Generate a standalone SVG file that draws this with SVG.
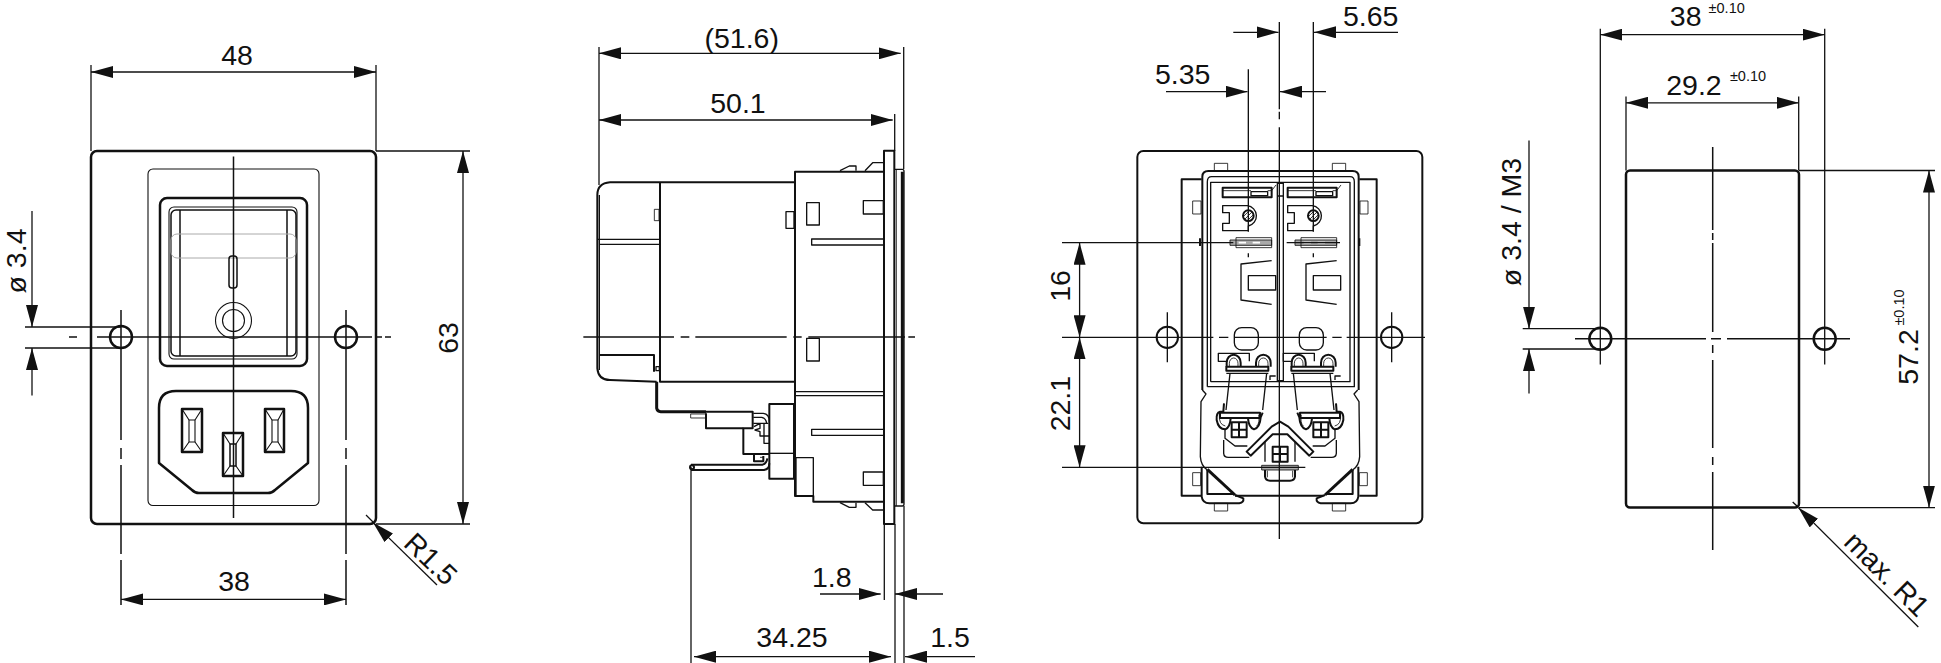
<svg xmlns="http://www.w3.org/2000/svg" xmlns:xlink="http://www.w3.org/1999/xlink" width="1941" height="663" viewBox="0 0 1941 663">
<style>
g,path,rect,line,circle,ellipse{fill:none;stroke:#111;stroke-linejoin:round}
text{font-family:"Liberation Sans",Arial,sans-serif;font-size:28.5px;fill:#111;stroke:none;text-anchor:middle}
text.s{font-size:14.5px}
.d line,.d path{stroke-width:1.3}
.a{marker-start:url(#ar);marker-end:url(#ar)}
.e{marker-end:url(#ar)}
.t{stroke-width:1.1}
.m{stroke-width:1.5}
.b{stroke-width:2.5}
.g{stroke:#aaa;stroke-width:1}
.z1{stroke-width:2.5}
.z2{stroke-width:4}
.z3{stroke-width:6}
.z4{stroke-width:9}
.gf{fill:#aaa}
</style>
<defs>
<marker id="ar" markerUnits="userSpaceOnUse" markerWidth="22" markerHeight="12" viewBox="0 -6 22 12" refX="22" refY="0" orient="auto-start-reverse"><path d="M0 -6L22 0L0 6z" style="fill:#111;stroke:none"/></marker>
<g id="mod">
<rect class="z3" x="308" y="143" width="147" height="29"/>
<path class="z1" d="M308,152H393M443,152H455L468,135"/>
<rect class="z2" x="393" y="155" width="50" height="12"/>
<path class="z2" d="M308,197H382A31,31 0 0 1 385,258V272H308V250H328V218H308Z"/>
<circle class="z3" cx="385" cy="227" r="16"/>
<path class="z1" d="M374,238L396,216M371,229L387,213M383,241L399,225"/>
<rect class="gf z1" x="330" y="300" width="125" height="16"/>
<rect class="z1" x="348" y="293" width="107" height="30"/>
<path style="stroke:#fff;stroke-width:5" d="M356,308H378M398,308H420"/>
<path class="z2" d="M455,362L363,372V480L455,493"/>
<rect class="z2" x="385" y="407" width="82" height="43"/>
<rect class="z2" x="343" y="563" width="72" height="67" rx="22"/>
<path class="z2" d="M322,664H295V640H388V664"/>
<path class="z3" d="M320,680V668A21,24 0 0 1 362,668V680M408,680V668A22,24 0 0 1 452,668V680"/>
<path class="z1" d="M328,680V670A13,16 0 0 1 354,670V680M416,680V670A14,16 0 0 1 444,670V680"/>
<rect class="z3" x="319" y="680" width="126" height="12"/>
<path class="z2" d="M319,700H445M450,720V708H467"/>
</g>
<g id="low">
<path class="z2" d="M330,100L318,210M440,100L428,210"/>
<rect class="z3" x="300" y="218" width="120" height="16"/>
<path class="z3" d="M312,190L310,215H300Q288,218 290,240Q295,268 316,268Q330,262 332,235M384,235Q386,262 402,268Q420,262 422,232L428,218"/>
<path class="z1" d="M298,224Q296,254 316,258M410,258Q420,250 416,224"/>
<path class="z2" d="M315,268V295L345,318H382M311,300V340Q312,352 325,352H388"/>
<rect class="z3" x="335" y="247" width="45" height="45"/>
<path class="z3" d="M357,247V292M335,269H380"/>
<path class="z2" d="M247,150L258,162L243,185L241,350Q243,378 262,390"/>
<path class="z4" d="M262,388L345,465"/>
<path class="z3" d="M245,380V470Q248,490 268,490H358Q372,488 370,475L345,465M262,390V462H340"/>
<rect class="z1" x="218" y="398" width="24" height="39"/>
<rect class="z1" x="283" y="490" width="40" height="23"/>
</g>
</defs>
<rect width="1941" height="663" style="fill:#fff;stroke:none"/>

<g id="front-view">
<rect class="b" x="91" y="151" width="285" height="373" rx="6"/>
<rect class="t" x="148" y="169" width="171" height="336.500" rx="5"/>
<rect class="b" x="160" y="198" width="147" height="168" rx="7"/>
<rect class="t" x="169" y="207" width="128" height="152" rx="5"/>
<rect class="m" x="171" y="210" width="125" height="146" rx="5"/>
<path class="m" d="M180,210V356M287,210V356"/>
<rect class="g" x="171" y="234" width="125" height="24" rx="6"/>
<rect class="m" x="229" y="256" width="8" height="32" rx="3"/>
<circle class="t" cx="233.500" cy="320.500" r="18"/>
<circle class="t" cx="233.500" cy="320.500" r="11"/>
<path class="b" d="M176,391H291Q308,391 308,408V463L275,490Q272,493 268,493H199Q195,493 192,490L159,463V408Q159,391 176,391Z"/>
<g id="pin-l"><rect class="b" x="182" y="409" width="20" height="43"/><rect class="t" x="189" y="420" width="6" height="22"/><path class="t" d="M182,409L189,420M202,409L195,420M182,452L189,442M202,452L195,442"/></g>
<g id="pin-r"><rect class="b" x="265" y="409" width="19" height="43"/><rect class="t" x="272" y="420" width="6" height="22"/><path class="t" d="M265,409L272,420M284,409L278,420M265,452L272,442M284,452L278,442"/></g>
<g id="pin-c"><rect class="b" x="223" y="433" width="20" height="43"/><rect class="m" x="230" y="444" width="6" height="22"/><path class="t" d="M223,433L230,444M243,433L236,444M223,476L230,466M243,476L236,466"/></g>
<circle class="b" cx="121" cy="337" r="11"/>
<circle class="b" cx="346" cy="337" r="11"/>
<path class="m" d="M233.500,156.500V518M69,337H77M97,337H372M377,337H382M385,337H391"/>
<path class="m" d="M121,310V440M121,448V459M121,465V554M121,560V605M346,310V440M346,448V459M346,465V554M346,560V605"/>
</g>

<g id="side-view" transform="translate(560,130) scale(.33333)">
<rect class="z3" x="972" y="62" width="31" height="1120"/>
<path class="z2" d="M1003,118H1027Q1032,118 1032,124V1122Q1032,1128 1027,1128H1003"/>
<path class="z4" d="M1027,125V1120"/>
<path class="z1" d="M1009,118V1128"/>
<path class="z3" d="M972,125H705V1098H760V1115H972"/>
<path class="z2" d="M840,122L868,108H888V122M915,122L938,98H970M840,1118L868,1132H888V1118M915,1118L938,1140H970"/>
<path class="z3" d="M702,157H150Q112,160 112,195V715Q115,750 150,750L290,755"/>
<path class="z3" d="M300,157V755H702"/>
<path class="z2" d="M112,328H300M118,343H300M118,195V720"/>
<path class="z3" d="M118,675H282V725"/>
<rect class="z1" x="283" y="238" width="14" height="34"/>
<rect class="z2" x="678" y="245" width="24" height="50"/>
<rect class="z2" x="740" y="218" width="38" height="67"/>
<rect class="z2" x="910" y="212" width="60" height="40"/>
<path class="z2" d="M970,327H755V345H970"/>
<rect class="z2" x="740" y="625" width="38" height="68"/>
<path class="z2" d="M705,785H970M705,797H970"/>
<path class="z2" d="M970,898H755V916H970"/>
<rect class="z2" x="910" y="1026" width="60" height="40"/>
<rect class="z2" x="708" y="983" width="52" height="115"/>
<path class="z4" d="M290,755V835Q292,845 302,845H438"/>
<path class="z3" d="M438,845H578V895H550V972H628"/>
<path class="z3" d="M438,850V895H550"/>
<rect class="z3" x="628" y="822" width="74" height="224"/>
<path class="z2" d="M628,970H702"/>
<rect class="z1" x="392" y="852" width="46" height="12"/>
<path class="z2" d="M580,850H610Q628,852 628,875M580,862H605Q618,865 620,880M580,880H625M582,890L600,880V895L585,900L600,905V918H628M612,880V940H628"/>
<path class="z3" d="M393,1004H608Q620,1000 622,985M393,1020H612Q628,1018 628,1000"/>
<circle class="z3" cx="396" cy="1012" r="6"/>
<path class="z3" d="M582,975V994H610V978"/>
<path class="z1" d="M600,982H612"/>
<path class="z2" d="M288,710H298V722H288Z"/>
<path class="z2" d="M70,621H342M362,621H388M406,621H680M700,621H725M745,621H1035M1045,621H1065"/>
</g>

<g id="rear-view" transform="translate(1120,140) scale(.33333)">
<rect class="z3" x="52" y="33" width="855" height="1117" rx="18"/>
<path class="z3" d="M245,118H185V1067H245M718,118H770V1067H718"/>
<path class="z3" d="M247,750V110Q247,93 265,93H698Q716,93 716,110V750"/>
<path class="z2" d="M262,740V125Q262,110 275,110H690Q703,110 703,125V740H262"/>
<path class="z2" d="M272,725V127H690V725H272"/>
<rect class="z1" x="283" y="70" width="40" height="23"/>
<rect class="z1" x="637" y="70" width="40" height="23"/>
<rect class="z1" x="218" y="183" width="25" height="39"/>
<rect class="z1" x="720" y="183" width="24" height="39"/>
<path class="z2" d="M472,130H490V722H472ZM472,168H490"/>
<path class="z3" d="M240,295V318M718,295V318"/>
<use xlink:href="#mod"/>
<use xlink:href="#mod" x="195"/>
<g transform="translate(0,600)">
<use xlink:href="#low"/>
<g transform="translate(960,0) scale(-1,1)"><use xlink:href="#low"/></g>
<path class="z3" d="M380,335L455,260L480,245L505,260L580,335L568,347L502,283H458L392,347Z"/>
<path class="z2" d="M435,305V365M525,305V365"/>
<rect class="z3" x="458" y="320" width="45" height="45"/>
<path class="z3" d="M480,320V365M458,342H503"/>
<rect class="gf z1" x="425" y="376" width="110" height="14"/>
<path class="z3" d="M435,390V410Q437,422 450,422H510Q523,422 525,410V390"/>
<path class="z1" d="M442,392V412M518,392V412"/>
<path class="z3" d="M345,467H610"/>
</g>
<circle class="z3" cx="142" cy="592" r="32"/>
<circle class="z3" cx="815" cy="592" r="32"/>
<path class="z2" d="M142,517V667M815,517V667M-174,592H280M297,592H325M342,592H620M637,592H665M680,592H915"/>
<path class="z2" d="M385,-212V275M385,340V352M580,-354V275M580,340V352"/>
<path class="z2" d="M478,-354V-92M478,-85V-62M478,-38V1197"/>
<path class="z2" d="M-174,308H340M500,308H660M-174,982H556"/>
</g>

<g id="cutout-view">
<rect class="b" x="1626" y="170.500" width="173" height="337" rx="4"/>
<circle class="b" cx="1600.300" cy="338.800" r="11"/>
<circle class="b" cx="1824.700" cy="338.800" r="11"/>
<path class="m" d="M1712.700,147V230M1712.700,233V240M1712.700,243V332M1712.700,345V353M1712.700,360V448M1712.700,457V465M1712.700,472V550M1575,338.800H1706M1711,338.800H1721M1727,338.800H1850"/>
</g>

<g id="dimensions" class="d">
<line x1="91" y1="65" x2="91" y2="151"/><line x1="376" y1="65" x2="376" y2="151"/>
<line class="a" x1="91" y1="72" x2="376" y2="72"/>
<line x1="376" y1="151" x2="470" y2="151"/><line x1="376" y1="524" x2="470" y2="524"/>
<line class="a" x1="463" y1="151" x2="463" y2="524"/>
<line class="a" x1="121" y1="599.400" x2="346" y2="599.400"/>
<line x1="25" y1="327" x2="121" y2="327"/><line x1="25" y1="348" x2="121" y2="348"/>
<line class="e" x1="32" y1="211" x2="32" y2="327"/><line class="e" x1="32" y1="395.500" x2="32" y2="348"/>
<line x1="366" y1="515" x2="373" y2="522"/><line class="e" x1="437" y1="585" x2="373" y2="522.400"/>

<line x1="599" y1="47" x2="599" y2="185"/><line x1="903.700" y1="47" x2="903.700" y2="169"/><line x1="894.700" y1="114" x2="894.700" y2="151"/>
<line class="a" x1="599" y1="53.300" x2="900.700" y2="53.300"/>
<line class="a" x1="599" y1="120" x2="892.700" y2="120"/>
<line x1="691" y1="467" x2="691" y2="663"/>
<line x1="884.300" y1="524" x2="884.300" y2="600"/><line x1="895" y1="524" x2="895" y2="663"/><line x1="904" y1="506" x2="904" y2="663"/>
<line class="e" x1="820" y1="594" x2="880.700" y2="594"/><line class="e" x1="943" y1="594" x2="895" y2="594"/>
<line class="a" x1="694" y1="656.700" x2="891" y2="656.700"/>
<line class="e" x1="975" y1="656.700" x2="905" y2="656.700"/>

<line class="e" x1="1233.300" y1="32.300" x2="1278.500" y2="32.300"/><line class="e" x1="1398" y1="32.300" x2="1314" y2="32.300"/>
<line class="e" x1="1166" y1="91.700" x2="1247.500" y2="91.700"/><line class="e" x1="1326" y1="91.700" x2="1280" y2="91.700"/>
<line class="a" x1="1079.600" y1="242.700" x2="1079.600" y2="337.300"/>
<line class="a" x1="1079.600" y1="337.300" x2="1079.600" y2="467.300"/>

<line x1="1600.300" y1="28.800" x2="1600.300" y2="364.600"/><line x1="1824.700" y1="28.800" x2="1824.700" y2="364.600"/>
<line class="a" x1="1600.300" y1="34.700" x2="1824.700" y2="34.700"/>
<line x1="1626" y1="96.400" x2="1626" y2="170.500"/><line x1="1798.700" y1="96.400" x2="1798.700" y2="170.500"/>
<line class="a" x1="1626" y1="102.800" x2="1798.700" y2="102.800"/>
<line x1="1799" y1="170.500" x2="1935" y2="170.500"/><line x1="1799" y1="507.600" x2="1935" y2="507.600"/>
<line class="a" x1="1929" y1="170.500" x2="1929" y2="507.600"/>
<line x1="1522.700" y1="328.700" x2="1600" y2="328.700"/><line x1="1522.700" y1="349" x2="1600" y2="349"/>
<line class="e" x1="1529" y1="140.400" x2="1529" y2="328.700"/><line class="e" x1="1529" y1="393.400" x2="1529" y2="349"/>
<line x1="1792.700" y1="502" x2="1798" y2="507"/><line class="e" x1="1918.300" y1="627" x2="1798.300" y2="507.600"/>
</g>

<g id="labels">
<text x="237" y="65">48</text>
<text transform="translate(458,338) rotate(-90)">63</text>
<text x="234" y="591">38</text>
<text transform="translate(26,261) rotate(-90)">ø 3.4</text>
<text transform="translate(424,566) rotate(44)">R1.5</text>
<text x="741.700" y="47.700">(51.6)</text>
<text x="738" y="112.700">50.1</text>
<text x="831.700" y="586.700">1.8</text>
<text x="792" y="647">34.25</text>
<text x="950" y="647">1.5</text>
<text x="1370.700" y="26">5.65</text>
<text x="1182.700" y="84">5.35</text>
<text transform="translate(1070,286) rotate(-90)">16</text>
<text transform="translate(1070,403.600) rotate(-90)">22.1</text>
<text x="1685.700" y="26">38</text>
<text class="s" x="1726.700" y="12.700">±0.10</text>
<text x="1694" y="95">29.2</text>
<text class="s" x="1748" y="81">±0.10</text>
<text transform="translate(1918,357) rotate(-90)">57.2</text>
<text class="s" transform="translate(1904,307.500) rotate(-90)">±0.10</text>
<text transform="translate(1521,222) rotate(-90)">ø 3.4 / M3</text>
<text transform="translate(1880,581) rotate(45)">max. R1</text>
</g>
</svg>
